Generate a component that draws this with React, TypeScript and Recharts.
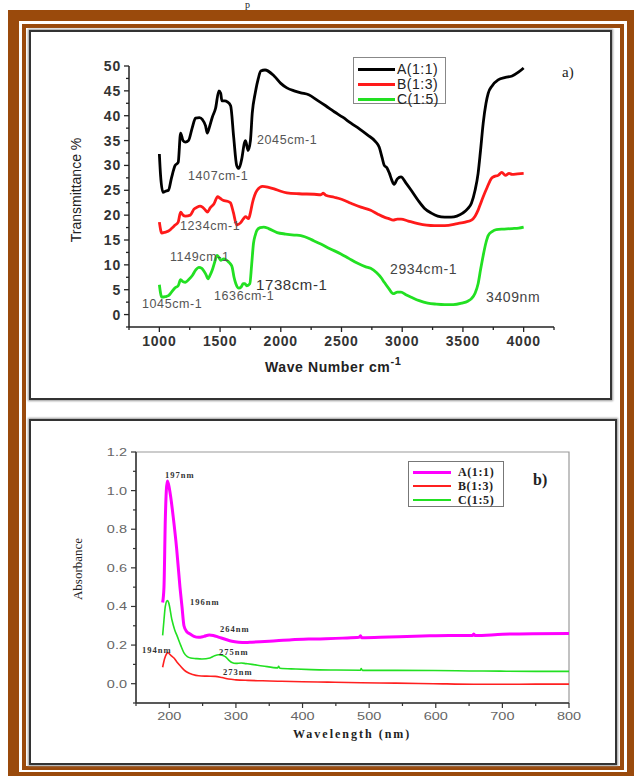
import { LineChart, Line, XAxis, YAxis, ReferenceArea } from "recharts"

// FTIR spectra (panel a)
const ftirWaveA = [1000, 1010, 1030, 1050, 1075, 1100, 1130, 1155, 1175, 1195, 1215, 1240, 1270, 1298, 1330, 1355, 1380, 1395, 1410, 1436, 1463, 1490, 1505, 1515, 1540, 1560, 1587, 1612, 1637, 1655, 1680, 1700, 1710, 1730, 1750, 1765, 1790, 1815, 1835, 1870, 1945, 2000, 2050, 2110, 2165, 2230, 2302, 2370, 2440, 2510, 2578, 2650, 2716, 2780, 2810, 2835, 2852, 2875, 2895, 2915, 2933, 2960, 2990, 3030, 3074, 3130, 3182, 3240, 3292, 3350, 3402, 3450, 3498, 3540, 3570, 3600, 3625, 3645, 3667, 3690, 3708, 3740, 3790, 3850, 3905, 3960, 4000]
const ftirA = [32.3, 28, 24.6, 24.8, 25, 27.5, 30, 30.6, 36.5, 35, 34.7, 35, 37.5, 39.5, 39.6, 39.2, 38, 36.5, 37.5, 39.7, 41.5, 45, 44.5, 43, 43, 42.8, 42, 35.7, 30, 29.4, 31.5, 34.5, 35, 33, 35, 40.5, 44.6, 47.5, 49, 49.2, 48, 46.5, 45.6, 45, 44.6, 44.2, 43.1, 42, 40.8, 39.7, 38.5, 37.3, 36.1, 34.8, 33.7, 31.5, 30, 29.5, 28.4, 27, 26.2, 27.3, 27.7, 26.5, 25, 23, 21.4, 20.4, 19.8, 19.6, 19.6, 19.8, 20.4, 21.3, 22.4, 25, 28.4, 33, 38.5, 42.5, 44.5, 46, 47.2, 47.7, 48, 48.8, 49.6]

const ftirWaveB = [1000, 1020, 1050, 1075, 1100, 1130, 1155, 1175, 1195, 1215, 1255, 1285, 1310, 1335, 1355, 1380, 1395, 1420, 1450, 1480, 1500, 1525, 1560, 1585, 1610, 1637, 1655, 1670, 1690, 1710, 1735, 1750, 1765, 1785, 1805, 1850, 1900, 1945, 2000, 2050, 2150, 2275, 2330, 2350, 2370, 2440, 2500, 2578, 2660, 2740, 2800, 2852, 2890, 2925, 2960, 2990, 3050, 3130, 3200, 3265, 3350, 3455, 3520, 3570, 3600, 3625, 3645, 3667, 3700, 3735, 3760, 3790, 3820, 3850, 3880, 3905, 3950, 4000]
const ftirB = [18.6, 16.4, 16.6, 16.8, 17.3, 18, 18.6, 20.6, 20, 19.8, 20, 21.2, 21.6, 21.8, 21.6, 21, 20.6, 21.5, 22.3, 23.7, 23.4, 23, 22.8, 22.5, 20.5, 18, 18.2, 18.5, 19.2, 19.7, 19.3, 20.5, 22.3, 24, 25, 25.8, 25.6, 25.3, 24.8, 24.5, 24.3, 24.2, 24.1, 24.4, 24, 23.6, 23.2, 22.4, 21.6, 21, 20.2, 19.6, 19.3, 19, 19.2, 19.2, 18.8, 18.3, 18, 17.9, 17.9, 18.3, 18.6, 19, 19.8, 21, 22.3, 23.7, 25.6, 27.4, 27.8, 28, 28.6, 28, 28.4, 28.2, 28.3, 28.4]

const ftirWaveC = [1000, 1020, 1050, 1075, 1100, 1130, 1155, 1175, 1195, 1215, 1240, 1270, 1300, 1325, 1350, 1365, 1385, 1400, 1415, 1435, 1455, 1475, 1490, 1505, 1530, 1550, 1570, 1585, 1600, 1615, 1630, 1655, 1675, 1690, 1705, 1720, 1745, 1760, 1775, 1790, 1805, 1830, 1860, 1900, 1970, 2040, 2110, 2165, 2275, 2330, 2400, 2495, 2560, 2633, 2700, 2740, 2790, 2830, 2852, 2890, 2925, 2960, 2990, 3030, 3074, 3140, 3210, 3280, 3350, 3420, 3490, 3540, 3570, 3600, 3625, 3645, 3667, 3690, 3708, 3740, 3775, 3840, 3905, 3960, 4000]
const ftirC = [6, 3.5, 3.6, 3.8, 4.5, 5.4, 5.8, 7, 6.6, 6.5, 7, 7.8, 9, 9.5, 9.3, 8.8, 8, 7.2, 7.8, 8.9, 10.5, 11.9, 11.5, 10.9, 11.2, 11, 10.6, 10.2, 9.5, 7.5, 6.2, 5.3, 5.6, 6.2, 6.2, 5.8, 6.2, 10, 14.3, 16, 17, 17.5, 17.6, 17.3, 16.5, 16.2, 16, 15.9, 14.8, 14.2, 13.3, 12.2, 11.3, 10.3, 9.6, 9.3, 8.4, 7.3, 6.5, 5.2, 4.2, 4.5, 4.5, 4, 3.5, 2.8, 2.3, 2.1, 2, 2, 2.3, 2.7, 3.2, 4.3, 6.2, 9, 11.9, 14.5, 15.9, 16.7, 17.1, 17.2, 17.3, 17.4, 17.6]

const ftirXTicks = [750, 1000, 1250, 1500, 1750, 2000, 2250, 2500, 2750, 3000, 3250, 3500, 3750, 4000, 4250]
const ftirYTicks = [-2.5, 0, 2.5, 5, 7.5, 10, 12.5, 15, 17.5, 20, 22.5, 25, 27.5, 30, 32.5, 35, 37.5, 40, 42.5, 45, 47.5, 50]

// UV-Vis spectra (panel b)
const uvWaveA = [190, 192, 194, 197, 199, 202, 206, 211, 216, 219, 222, 226, 230, 237, 244, 252, 260, 266, 275, 284, 294, 304, 315, 324, 350, 384, 420, 460, 485, 487, 489, 530, 580, 620, 655, 657, 659, 700, 746, 800]
const uvA = [0.42, 0.5, 0.85, 1.05, 1.03, 0.97, 0.86, 0.7, 0.5, 0.4, 0.3, 0.27, 0.26, 0.245, 0.24, 0.245, 0.252, 0.25, 0.24, 0.23, 0.22, 0.215, 0.213, 0.215, 0.22, 0.228, 0.232, 0.236, 0.24, 0.248, 0.238, 0.242, 0.247, 0.25, 0.25, 0.258, 0.249, 0.256, 0.259, 0.26]

const uvWaveB = [190, 193, 196, 198, 202, 207, 212, 217, 222, 227, 235, 244, 256, 269, 279, 289, 300, 318, 340, 363, 400, 438, 488, 540, 597, 657, 700, 750, 800]
const uvB = [0.085, 0.13, 0.155, 0.16, 0.148, 0.133, 0.11, 0.09, 0.072, 0.059, 0.048, 0.041, 0.039, 0.038, 0.032, 0.024, 0.02, 0.017, 0.015, 0.013, 0.01, 0.008, 0.005, 0.003, 0, -0.003, -0.003, -0.002, -0.002]

const uvWaveC = [190, 192, 194, 197, 199, 204, 208, 212, 217, 222, 227, 232, 240, 249, 261, 268, 274, 279, 284, 290, 294, 300, 308, 315, 324, 340, 363, 364, 366, 390, 413, 450, 487, 488, 490, 540, 597, 650, 697, 750, 800]
const uvC = [0.25, 0.33, 0.4, 0.43, 0.42, 0.33, 0.28, 0.245, 0.2, 0.16, 0.14, 0.133, 0.13, 0.128, 0.133, 0.145, 0.15, 0.148, 0.14, 0.12, 0.11, 0.105, 0.107, 0.104, 0.1, 0.092, 0.082, 0.09, 0.08, 0.076, 0.073, 0.071, 0.07, 0.078, 0.069, 0.069, 0.068, 0.066, 0.065, 0.064, 0.064]

const uvXTicks = [150, 200, 250, 300, 350, 400, 450, 500, 550, 600, 650, 700, 750, 800]
const uvYTicks = [-0.1, 0, 0.1, 0.2, 0.3, 0.4, 0.5, 0.6, 0.7, 0.8, 0.9, 1.0, 1.1, 1.2]

const seriesNames = ["A(1:1)", "B(1:3)", "C(1:5)"]
const ftirColors = ["#000000", "#ff1a1a", "#22e022"]
const uvColors = ["#ff00ff", "#ff2020", "#22e022"]

const pairs = (xs: number[], ys: number[]) => xs.map((x, i) => ({ x, y: ys[i] }))

const brown = "#9a4a0c"
const sans = "'Liberation Sans', Arial, sans-serif"
const serif = "'Liberation Serif', 'Times New Roman', serif"

const FtirXTick = ({ x, y, payload }: any) => {
  const major = payload.value % 500 === 0 && payload.value >= 1000 && payload.value <= 4000
  return (
    <g>
      <line x1={x} x2={x} y1={y} y2={y + (major ? 5 : 3)} stroke="#222" strokeWidth={1.3} />
      {major && (
        <text x={x} y={y + 19} textAnchor="middle" fontSize={14} fontWeight="bold" letterSpacing={0.8} fill="#333" fontFamily={sans}>
          {payload.value}
        </text>
      )}
    </g>
  )
}

const FtirYTick = ({ x, y, payload }: any) => {
  const major = payload.value % 5 === 0 && payload.value >= 0
  return (
    <g>
      <line x1={x} x2={x - (major ? 5 : 3)} y1={y} y2={y} stroke="#222" strokeWidth={1.3} />
      {major && (
        <text x={x - 8} y={y + 5} textAnchor="end" fontSize={14} fontWeight="bold" letterSpacing={0.8} fill="#333" fontFamily={sans}>
          {payload.value}
        </text>
      )}
    </g>
  )
}

const UvXTick = ({ x, y, payload }: any) => {
  const major = payload.value % 100 === 0
  return (
    <g>
      <line x1={x} x2={x} y1={y} y2={y + (major ? 5 : 3)} stroke="#333" strokeWidth={1.2} />
      {major && (
        <text transform={`translate(${x},${y + 17}) scale(1.45,1)`} textAnchor="middle" fontSize={10} fill="#666" fontFamily={sans}>
          {payload.value}
        </text>
      )}
    </g>
  )
}

const UvYTick = ({ x, y, payload }: any) => {
  const v = Math.round(payload.value * 10)
  const major = v >= 0 && v % 2 === 0
  return (
    <g>
      <line x1={x} x2={x - (major ? 5 : 3)} y1={y} y2={y} stroke="#333" strokeWidth={1.2} />
      {major && (
        <text transform={`translate(${x - 9},${y + 4}) scale(1.45,1)`} textAnchor="end" fontSize={10} fill="#666" fontFamily={sans}>
          {(v / 10).toFixed(1)}
        </text>
      )}
    </g>
  )
}

const Note = ({ left, top, size, color, font, weight, spacing, children }: any) => (
  <div
    style={{
      position: "absolute",
      left,
      top,
      transform: "translateY(-50%)",
      fontSize: size,
      lineHeight: 1,
      color,
      fontFamily: font,
      fontWeight: weight || "normal",
      letterSpacing: spacing || 0,
      whiteSpace: "nowrap",
    }}
  >
    {children}
  </div>
)

const panelStyle = (left: number, top: number, width: number, height: number): any => ({
  position: "absolute",
  left,
  top,
  width,
  height,
  boxSizing: "border-box",
  border: "2px solid #333",
  boxShadow: "0 0 2px 1px #999",
  background: "#fff",
})

export default function App() {
  const ftirSeries = [pairs(ftirWaveA, ftirA), pairs(ftirWaveB, ftirB), pairs(ftirWaveC, ftirC)]
  const uvSeries = [pairs(uvWaveA, uvA), pairs(uvWaveB, uvB), pairs(uvWaveC, uvC)]

  return (
    <div style={{ position: "absolute", left: 0, top: 0, width: 634, height: 776, overflow: "hidden", background: "#fff" }}>
      <div style={{ position: "absolute", left: 245, top: 0, fontFamily: serif, fontSize: 10, lineHeight: 1, color: "#222" }}>p</div>

      <div style={{ position: "absolute", left: 8, top: 10, width: 630, height: 773, boxSizing: "border-box", border: `11px solid ${brown}` }} />
      <div style={{ position: "absolute", left: 22, top: 24, width: 602, height: 746, boxSizing: "border-box", border: `4px solid ${brown}` }} />

      <div style={panelStyle(29, 30, 583, 370)} />
      <div style={panelStyle(29, 419, 588, 346)} />

      {/* panel a */}
      <div style={{ position: "absolute", left: 29, top: 30 }}>
        <LineChart width={583} height={370} margin={{ top: 36, right: 58, bottom: 0, left: 0 }}>
          <XAxis
            dataKey="x"
            type="number"
            domain={[750, 4250]}
            ticks={ftirXTicks}
            interval={0}
            height={73}
            tickSize={0}
            tickMargin={0}
            tickLine={false}
            axisLine={{ stroke: "#222", strokeWidth: 1.5 }}
            tick={<FtirXTick />}
            allowDataOverflow
          />
          <YAxis
            dataKey="y"
            type="number"
            domain={[-2.5, 50]}
            ticks={ftirYTicks}
            interval={0}
            width={100}
            tickSize={0}
            tickMargin={0}
            tickLine={false}
            axisLine={{ stroke: "#222", strokeWidth: 1.5 }}
            tick={<FtirYTick />}
            allowDataOverflow
          />
          {ftirSeries.map((d, i) => (
            <Line
              key={seriesNames[i]}
              data={d}
              dataKey="y"
              name={seriesNames[i]}
              type="monotone"
              stroke={ftirColors[i]}
              strokeWidth={2.8}
              dot={false}
              isAnimationActive={false}
            />
          ))}
        </LineChart>
      </div>

      <div
        style={{
          position: "absolute",
          left: 76,
          top: 190,
          transform: "translate(-50%,-50%) rotate(-90deg)",
          fontFamily: sans,
          fontSize: 14,
          color: "#222",
          whiteSpace: "nowrap",
        }}
      >
        Transmittance %
      </div>
      <Note left={265} top={366} size={14} color="#222" font={sans} weight="bold" spacing={0.6}>
        Wave Number cm<sup style={{ fontSize: 11, position: "relative", top: -2 }}>-1</sup>
      </Note>

      <div style={{ position: "absolute", left: 353, top: 57, width: 93, height: 47, boxSizing: "border-box", border: "1px solid #888", background: "#fff" }}>
        {seriesNames.map((n, i) => (
          <div key={n} style={{ position: "absolute", left: 4, top: 4 + i * 15, height: 14, display: "flex", alignItems: "center" }}>
            <div style={{ width: 37, height: 3, background: ftirColors[i] }} />
            <span style={{ marginLeft: 2, fontFamily: sans, fontSize: 14, color: "#222", letterSpacing: 0.5 }}>{n}</span>
          </div>
        ))}
      </div>
      <Note left={562} top={72} size={15} color="#222" font={serif}>a)</Note>

      <Note left={257} top={140} size={12.5} color="#555" font={sans} spacing={0.6}>2045cm-1</Note>
      <Note left={188} top={176} size={12.5} color="#555" font={sans} spacing={0.6}>1407cm-1</Note>
      <Note left={180} top={226} size={12.5} color="#555" font={sans} spacing={0.6}>1234cm-1</Note>
      <Note left={170} top={257} size={12.5} color="#555" font={sans} spacing={0.6}>1149cm-1</Note>
      <Note left={256} top={284} size={15} color="#333" font={sans} spacing={0.6}>1738cm-1</Note>
      <Note left={214} top={296} size={12.5} color="#555" font={sans} spacing={0.6}>1636cm-1</Note>
      <Note left={142} top={304} size={12.5} color="#555" font={sans} spacing={0.6}>1045cm-1</Note>
      <Note left={390} top={269} size={14} color="#444" font={sans} spacing={0.6}>2934cm-1</Note>
      <Note left={486} top={297} size={14} color="#444" font={sans} spacing={0.6}>3409nm</Note>

      {/* panel b */}
      <div style={{ position: "absolute", left: 29, top: 419 }}>
        <LineChart width={588} height={346} margin={{ top: 33, right: 48, bottom: 0, left: 0 }}>
          <XAxis
            dataKey="x"
            type="number"
            domain={[150, 800]}
            ticks={uvXTicks}
            interval={0}
            height={62}
            tickSize={0}
            tickMargin={0}
            tickLine={false}
            axisLine={{ stroke: "#333", strokeWidth: 1.5 }}
            tick={<UvXTick />}
            allowDataOverflow
          />
          <YAxis
            dataKey="y"
            type="number"
            domain={[-0.1, 1.2]}
            ticks={uvYTicks}
            interval={0}
            width={107}
            tickSize={0}
            tickMargin={0}
            tickLine={false}
            axisLine={{ stroke: "#333", strokeWidth: 1.5 }}
            tick={<UvYTick />}
            allowDataOverflow
          />
          <ReferenceArea x1={150} x2={800} y1={-0.1} y2={1.2} fill="none" stroke="#9a9a9a" strokeWidth={1.2} />
          {uvSeries.map((d, i) => (
            <Line
              key={seriesNames[i]}
              data={d}
              dataKey="y"
              name={seriesNames[i]}
              type="monotone"
              stroke={uvColors[i]}
              strokeWidth={i === 0 ? 3 : 1.6}
              dot={false}
              isAnimationActive={false}
            />
          ))}
        </LineChart>
      </div>

      <div
        style={{
          position: "absolute",
          left: 78,
          top: 569,
          transform: "translate(-50%,-50%) rotate(-90deg)",
          fontFamily: serif,
          fontSize: 13,
          color: "#222",
          whiteSpace: "nowrap",
        }}
      >
        Absorbance
      </div>
      <Note left={293} top={734} size={12} color="#222" font={serif} weight="bold" spacing={2}>Wavelength (nm)</Note>

      <div style={{ position: "absolute", left: 408, top: 461, width: 96, height: 46, boxSizing: "border-box", border: "1px solid #777", background: "#fff" }}>
        {seriesNames.map((n, i) => (
          <div key={n} style={{ position: "absolute", left: 4, top: 3 + i * 14, height: 14, display: "flex", alignItems: "center" }}>
            <div style={{ width: 38, height: i === 0 ? 3 : 2, background: uvColors[i] }} />
            <span style={{ marginLeft: 7, fontFamily: serif, fontSize: 12, fontWeight: "bold", color: "#222", letterSpacing: 0.6 }}>{n}</span>
          </div>
        ))}
      </div>
      <Note left={533} top={480} size={16} color="#222" font={serif} weight="bold">b)</Note>

      <Note left={165} top={475} size={8.5} color="#333" font={serif} weight="bold" spacing={1}>197nm</Note>
      <Note left={190} top={602} size={8.5} color="#333" font={serif} weight="bold" spacing={1}>196nm</Note>
      <Note left={220} top={629} size={8.5} color="#333" font={serif} weight="bold" spacing={1}>264nm</Note>
      <Note left={142} top={650} size={8.5} color="#333" font={serif} weight="bold" spacing={1}>194nm</Note>
      <Note left={219} top={652} size={8.5} color="#333" font={serif} weight="bold" spacing={1}>275nm</Note>
      <Note left={223} top={672} size={8.5} color="#333" font={serif} weight="bold" spacing={1}>273nm</Note>
    </div>
  )
}
